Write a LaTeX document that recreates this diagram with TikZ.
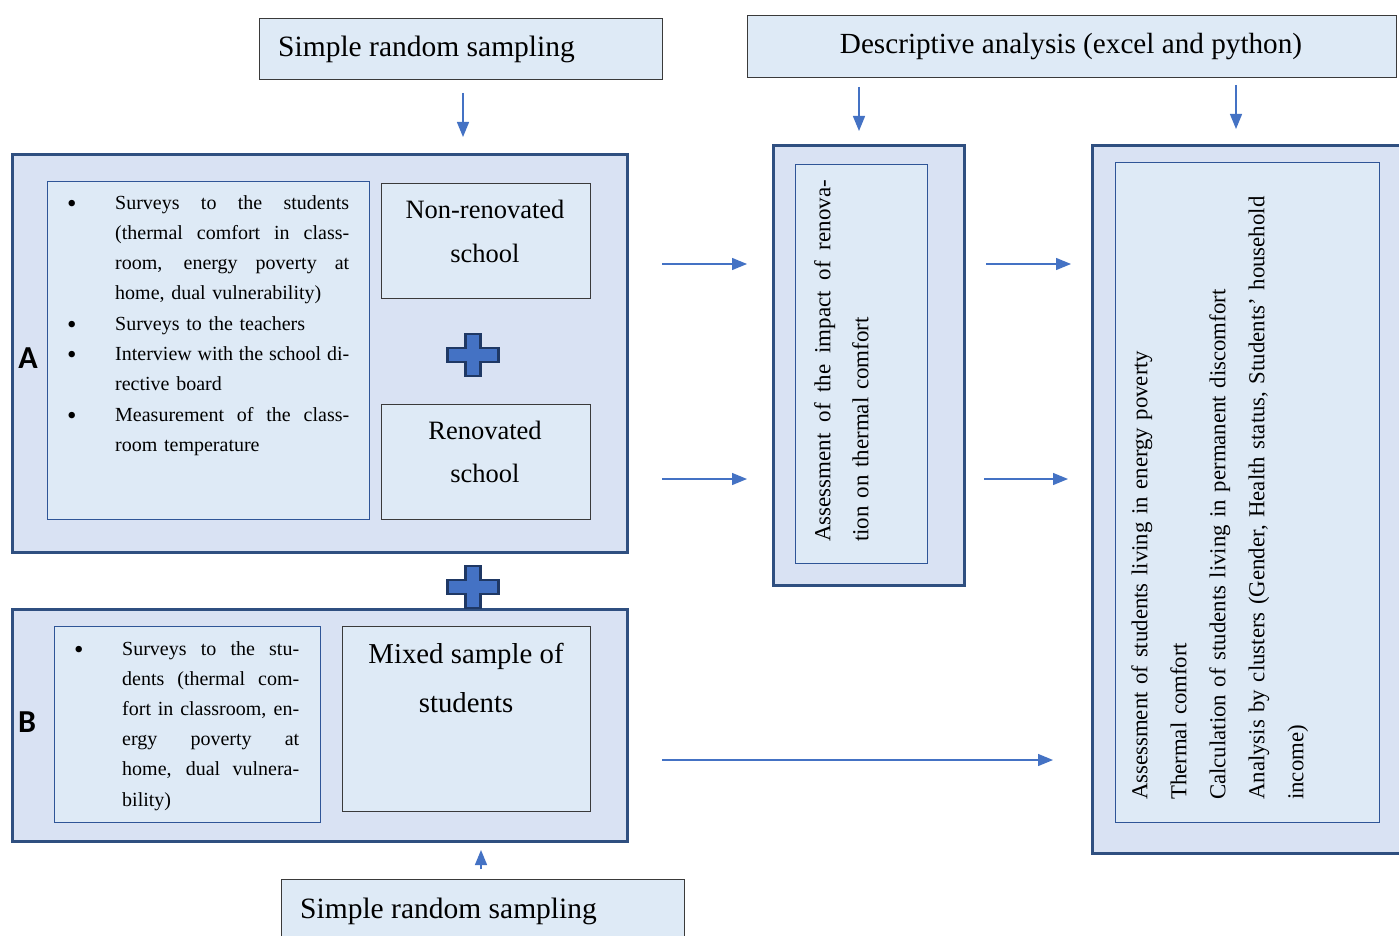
\documentclass[tikz,border=0pt]{standalone}
\usepackage{fontspec}
\setmainfont{Liberation Serif}
\newfontfamily\carlito{Carlito}
\usetikzlibrary{arrows.meta}
\definecolor{navyb}{HTML}{2F4F80}
\definecolor{outfill}{HTML}{D9E2F3}
\definecolor{infill}{HTML}{DEEAF6}
\definecolor{innerblue}{HTML}{2F5597}
\definecolor{dgray}{HTML}{3A3A3A}
\definecolor{arrblue}{HTML}{4472C4}
\definecolor{plusborder}{HTML}{1F3864}
\newcommand\JBox[2]{\hbox to #1{\spaceskip=0.25em plus 1fil\relax #2}}
\newcommand\Bul{\makebox[47pt][l]{\hspace*{-1pt}\raisebox{-3pt}{\fontsize{27}{0}\selectfont\textbullet}}}
\newcommand\BLs[2]{\Bul\JBox{#1}{#2}}
\newcommand\ILs[2]{\hspace*{47pt}\JBox{#1}{#2}}
\newcommand\BLl[1]{\Bul#1}
\newcommand\ILl[1]{\hspace*{47pt}#1}
\begin{document}
\begin{tikzpicture}[x=1pt,y=-1pt,
  outer/.style={draw=navyb,line width=2.6pt,fill=outfill,inner sep=0,anchor=north west},
  inner/.style={draw=innerblue,line width=1.2pt,fill=infill,inner sep=0,anchor=north west},
  gbox/.style={draw=dgray,line width=1.2pt,fill=infill,inner sep=0,anchor=north west},
  arr/.style={draw=arrblue,line width=1.3pt,-{Triangle[length=15pt,width=12pt]}},
  plusst/.style={fill=arrblue,draw=plusborder,line width=2.2pt,line join=miter},
  lbl/.style={font=\carlito\bfseries\fontsize{32}{32}\selectfont,inner sep=0},
  txt/.style={inner sep=0},
  plussign/.pic={\path[plusst] (-7.5,-21) -- (7.5,-21) -- (7.5,-7) -- (25.5,-7) -- (25.5,7) -- (7.5,7) -- (7.5,21) -- (-7.5,21) -- (-7.5,7) -- (-25.5,7) -- (-25.5,-7) -- (-7.5,-7) -- cycle;}
]
\clip (0,0) rectangle (1399,936);
\useasboundingbox (0,0) rectangle (1399,936);
\fill[white] (0,0) rectangle (1399,936);

% top boxes
\node[gbox,minimum width=403pt,minimum height=61pt] (srs1) at (259,18) {};
\node[txt,anchor=base west,font=\fontsize{29.5}{29.5}\selectfont] (srs1t) at (278,57) {Simple random sampling};
\node[gbox,minimum width=649pt,minimum height=62pt] (desc) at (747,15) {};
\node[txt,anchor=base,font=\fontsize{29.2}{29.2}\selectfont] (desct) at (1071,54) {Descriptive analysis (excel and python)};

% box A
\node[outer,minimum width=615pt,minimum height=398pt] (boxA) at (11,153) {};
\node[inner,minimum width=322pt,minimum height=338pt] (listA) at (47,181) {};
\node[gbox,minimum width=209pt,minimum height=115pt] (nonren) at (381,183) {};
\node[gbox,minimum width=209pt,minimum height=115pt] (ren) at (381,404) {};
\node[txt,anchor=north west,text width=285pt,align=left,font=\fontsize{20}{30.3}\selectfont] (listAt) at (68,195) {%
\BLs{234pt}{Surveys to the students}\\
\ILs{234pt}{(thermal comfort in class-}\\
\ILs{234pt}{room, energy poverty at}\\
\ILl{home, dual vulnerability)}\\
\BLl{Surveys to the teachers}\\
\BLs{234pt}{Interview with the school di-}\\
\ILl{rective board}\\
\BLs{234pt}{Measurement of the class-}\\
\ILl{room temperature}};
\node[txt,anchor=north,align=center,font=\fontsize{26.5}{44}\selectfont] (nonrent) at (485,200) {Non-renovated\\school};
\node[txt,anchor=north,align=center,font=\fontsize{26.5}{43}\selectfont] (rent) at (485,421) {Renovated\\school};
\pic (plusA) at (473,355) {plussign};
\node[lbl] (labA) at (28,358) {A};

% box B
\node[outer,minimum width=615pt,minimum height=232pt] (boxB) at (11,608) {};
\pic (plusAB) at (473,587) {plussign};
\node[inner,minimum width=266pt,minimum height=196pt] (listB) at (54,626) {};
\node[gbox,minimum width=248pt,minimum height=185pt] (mixed) at (342,626) {};
\node[txt,anchor=north west,text width=228pt,align=left,font=\fontsize{20}{30.2}\selectfont] (listBt) at (75,641) {%
\BLs{177pt}{Surveys to the stu-}\\
\ILs{177pt}{dents (thermal com-}\\
\ILs{177pt}{fort in classroom, en-}\\
\ILs{177pt}{ergy poverty at}\\
\ILs{177pt}{home, dual vulnera-}\\
\ILl{bility)}};
\node[txt,anchor=north,align=center,font=\fontsize{28.8}{49}\selectfont] (mixedt) at (466,643) {Mixed sample of\\students};
\node[lbl] (labB) at (27,722) {B};

% bottom box
\node[gbox,minimum width=403pt,minimum height=70pt] (srs2) at (281,879) {};
\node[txt,anchor=base west,font=\fontsize{29.5}{29.5}\selectfont] (srs2t) at (300,918) {Simple random sampling};

% middle box
\node[outer,minimum width=191pt,minimum height=440pt] (midbox) at (772,144) {};
\node[inner,minimum width=132pt,minimum height=399pt] (midin) at (795,164) {};
\node[txt,rotate=90,anchor=north west,text width=362pt,align=left,font=\fontsize{23}{38}\selectfont] (midt) at (814,542) {%
\JBox{362pt}{Assessment of the impact of renova-}\\
tion on thermal comfort};

% right box
\node[outer,minimum width=320pt,minimum height=708pt] (rbox) at (1091,144) {};
\node[inner,minimum width=264pt,minimum height=660pt] (rin) at (1115,162) {};
\node[txt,rotate=90,anchor=north west,text width=640pt,align=left,font=\fontsize{22.8}{39}\selectfont] (rt) at (1131,800) {%
Assessment of students living in energy poverty\\
Thermal comfort\\
Calculation of students living in permanent discomfort\\
Analysis by clusters (Gender, Health status, Students’ household\\
income)};

% arrows
\coordinate (a1s) at (463,93);   \coordinate (a1e) at (463,137);
\coordinate (d1s) at (859,87);   \coordinate (d1e) at (859,131);
\coordinate (d2s) at (1236,85);  \coordinate (d2e) at (1236,129);
\coordinate (h1s) at (662,264);  \coordinate (h1e) at (747,264);
\coordinate (h2s) at (662,479);  \coordinate (h2e) at (747,479);
\coordinate (h3s) at (986,264);  \coordinate (h3e) at (1071,264);
\coordinate (h4s) at (984,479);  \coordinate (h4e) at (1068,479);
\coordinate (h5s) at (662,760);  \coordinate (h5e) at (1053,760);
\coordinate (b1s) at (481,869);  \coordinate (b1e) at (481,850);
\draw[arr] (a1s) -- (a1e);
\draw[arr] (d1s) -- (d1e);
\draw[arr] (d2s) -- (d2e);
\draw[arr] (h1s) -- (h1e);
\draw[arr] (h2s) -- (h2e);
\draw[arr] (h3s) -- (h3e);
\draw[arr] (h4s) -- (h4e);
\draw[arr] (h5s) -- (h5e);
\draw[arr] (b1s) -- (b1e);
\end{tikzpicture}
\end{document}
